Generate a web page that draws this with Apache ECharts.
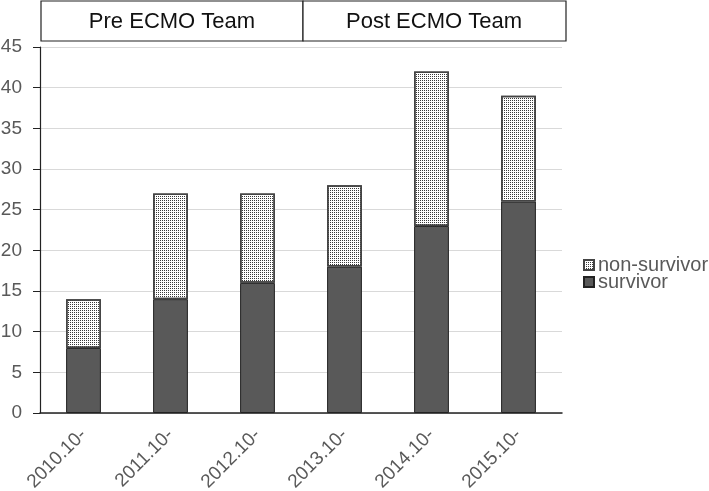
<!DOCTYPE html>
<html>
<head>
<meta charset="utf-8">
<script src="https://cdn.jsdelivr.net/npm/echarts@6/dist/echarts.min.js"></script>
<style>
  html, body { margin: 0; padding: 0; background: #fff; }
  #chart { width: 709px; height: 491px; }
</style>
</head>
<body>
<div id="chart"></div>
<script>
  // data
  const years = ['2010.10-', '2011.10-', '2012.10-', '2013.10-', '2014.10-', '2015.10-'];
  const survivor = [8, 14, 16, 18, 23, 26];
  const nonSurvivor = [6, 13, 11, 10, 19, 13];
  const periods = ['Pre ECMO Team', 'Post ECMO Team'];

  const font = 'Liberation Sans, Arial, sans-serif';
  const grey = '#595959';

  const myChart = echarts.init(document.getElementById('chart'));

  const option = {
    backgroundColor: '#fff',
    animation: false,
    textStyle: { fontFamily: font },
    grid: { left: 40, right: 147, top: 47, bottom: 78, containLabel: false, outerBoundsMode: 'none' },
    legend: {
      orient: 'vertical',
      left: 578,
      top: 250,
      icon: 'rect',
      itemWidth: 10,
      itemHeight: 10,
      itemGap: -3,
      data: ['non-survivor', 'survivor'],
      textStyle: { fontFamily: font, fontSize: 20, lineHeight: 18, color: grey, padding: [0, 0, 0, -1] }
    },
    xAxis: {
      type: 'category',
      data: years,
      axisLine: { lineStyle: { color: '#222', width: 1.5 } },
      axisTick: { show: false },
      axisLabel: { rotate: 45, fontSize: 19, color: grey, margin: 19, fontFamily: font }
    },
    yAxis: {
      type: 'value',
      min: 0,
      max: 45,
      interval: 5,
      axisLine: { show: true, lineStyle: { color: '#222', width: 1.2 } },
      axisTick: { show: true, length: 7, lineStyle: { color: '#222' } },
      splitLine: { lineStyle: { color: '#d9d9d9' } },
      axisLabel: { fontSize: 19, color: grey, margin: 18, fontFamily: font }
    },
    series: [
      {
        name: 'survivor',
        type: 'bar',
        stack: 'total',
        barWidth: '40%',
        data: survivor,
        itemStyle: { color: '#595959', borderColor: '#222', borderWidth: 1 }
      },
      {
        name: 'non-survivor',
        type: 'bar',
        stack: 'total',
        barWidth: '40%',
        data: nonSurvivor,
        itemStyle: {
          color: '#ffffff',
          borderColor: '#444',
          borderWidth: 1.5,
          decal: {
            symbol: 'rect',
            symbolSize: 1,
            dashArrayX: [1, 1],
            dashArrayY: [1, 1],
            color: '#3a3a3a',
            rotation: 0
          }
        }
      }
    ],
    graphic: [
      {
        type: 'rect',
        shape: { x: 41, y: 1, width: 262, height: 40 },
        style: { fill: '#fff', stroke: '#222', lineWidth: 1.2 }
      },
      {
        type: 'rect',
        shape: { x: 303, y: 1, width: 263, height: 40 },
        style: { fill: '#fff', stroke: '#222', lineWidth: 1.2 }
      },
      {
        type: 'text',
        x: 172, y: 22,
        style: { text: periods[0], fontSize: 22, fontFamily: font, fill: '#111', align: 'center', verticalAlign: 'middle' }
      },
      {
        type: 'text',
        x: 434, y: 22,
        style: { text: periods[1], fontSize: 22, fontFamily: font, fill: '#111', align: 'center', verticalAlign: 'middle' }
      }
    ]
  };

  myChart.setOption(option);
</script>
</body>
</html>
